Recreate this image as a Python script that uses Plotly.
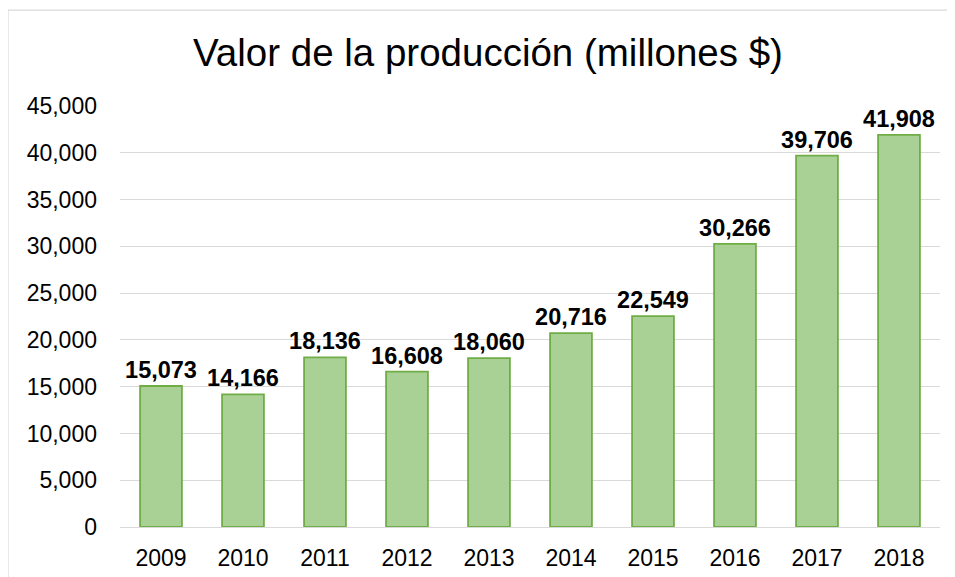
import plotly.graph_objects as go

years = ["2009", "2010", "2011", "2012", "2013", "2014", "2015", "2016", "2017", "2018"]
values = [15073, 14166, 18136, 16608, 18060, 20716, 22549, 30266, 39706, 41908]
labels = [f"{v:,}" for v in values]
tick_vals = [0, 5000, 10000, 15000, 20000, 25000, 30000, 35000, 40000, 45000]
tick_text = [f"{v:,}" for v in tick_vals]

# page body has an 8px margin, so figure is 947x569 placed at (8,8)
W, H = 947, 569
L, R, T, B = 112, 15, 98, 49.5
pw, ph = W - L - R, H - T - B

fig = go.Figure(go.Bar(
    x=years, y=values,
    text=labels, textposition="outside",
    constraintext="none",
    textfont=dict(family="Liberation Sans, Arial", size=23.5, color="#000000"),
    texttemplate="<b>%{text}</b>",
    cliponaxis=False,
    marker=dict(color="#a9d195", line=dict(color="#70ad47", width=1.8)),
))

fig.update_layout(
    width=W, height=H,
    margin=dict(l=L, r=R, t=T, b=B),
    paper_bgcolor="white", plot_bgcolor="white",
    bargap=0.49,
    showlegend=False,
    title=dict(text="Valor de la producción (millones $)", x=(488 - 8) / W, xanchor="center",
               y=1 - 45 / H, yanchor="middle",
               font=dict(family="Liberation Sans, Arial", size=38.5, color="#000000")),
    font=dict(family="Liberation Sans, Arial", size=23, color="#000000"),
    shapes=[dict(type="rect", xref="paper", yref="paper",
                 x0=(0 - L) / pw, x1=(W + 10 - L) / pw,
                 y0=-(B + 10) / ph, y1=(H - 2 - B) / ph,
                 line=dict(color="#d9d9d9", width=1.2), fillcolor="rgba(0,0,0,0)", layer="below")],
)
fig.update_xaxes(showgrid=False, showline=True, linecolor="#d9d9d9", linewidth=1.2,
                 ticks="", tickfont=dict(size=23), ticklabelstandoff=10, automargin=False)
fig.update_yaxes(range=[0, 45000], tickvals=tick_vals, ticktext=tick_text,
                 showgrid=True, gridcolor="#d9d9d9", gridwidth=1.2, zeroline=False,
                 ticks="", tickfont=dict(size=23), ticklabelstandoff=22, automargin=False)

fig.write_html("out.html")
